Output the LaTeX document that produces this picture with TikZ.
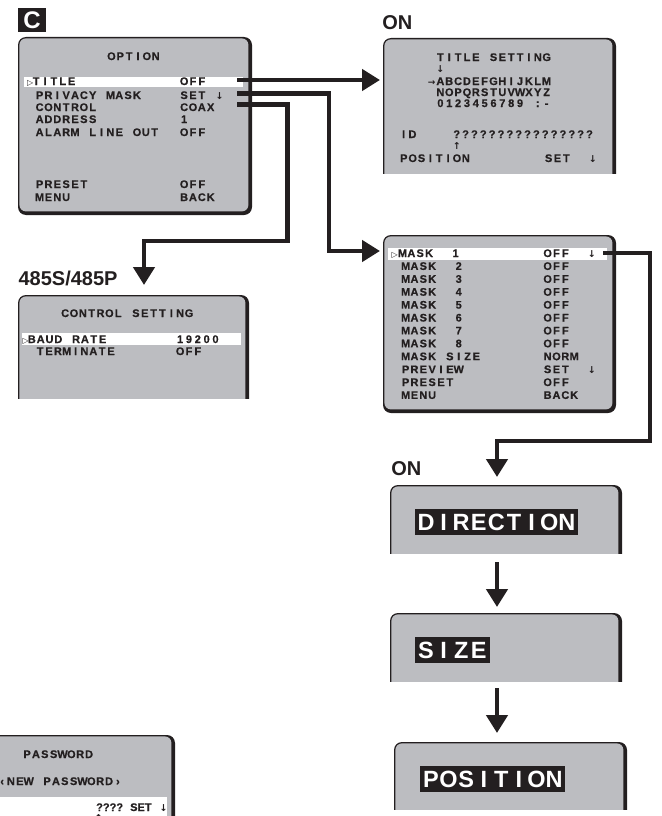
\documentclass[tikz,border=0pt]{standalone}
\usepackage{fontspec}
\setmainfont{Liberation Sans}
\newfontfamily\osdf{Liberation Sans}[BoldFeatures={FakeBold=0.6}]
\newfontfamily\symf{DejaVu Sans}
\usetikzlibrary{arrows.meta}
\definecolor{scrgray}{RGB}{188,189,193}
\definecolor{ink}{RGB}{35,31,32}
\newlength\monopitch
\makeatletter
\def\mono@stop{\mono@stop}
\def\mono@step#1{\ifx#1\mono@stop\else\makebox[\monopitch]{#1}\expandafter\mono@step\fi}
\newcommand\mono[2]{\setlength\monopitch{#1}\mono@step#2\mono@stop}
\makeatother
\newcommand\osm[1]{\mono{8.85pt}{#1}}
\newcommand\osM[1]{\mono{17.6pt}{#1}}
\newcommand\darr{{\symf\bfseries\fontsize{9.5pt}{9.5pt}\selectfont ↓}}
\newcommand\uarr{{\symf\bfseries\fontsize{9.5pt}{9.5pt}\selectfont ↑}}
\newcommand\rarr{{\symf\bfseries\fontsize{9pt}{9pt}\selectfont →}}
\tikzset{
 txt/.style={anchor=base west, inner sep=0pt, text=ink, font=\osdf\bfseries\fontsize{11pt}{11pt}\selectfont},
 tri/.style={anchor=base west, inner sep=0pt, text=ink, font=\symf\bfseries\fontsize{8pt}{8pt}\selectfont},
 hdr/.style={anchor=base west, inner sep=0pt, text=ink, font=\bfseries\fontsize{20pt}{20pt}\selectfont},
 inv/.style={anchor=west, fill=ink, text=white, inner xsep=2pt, inner ysep=4.5pt, text height=17pt, text depth=0pt, font=\bfseries\fontsize{23.5pt}{23.5pt}\selectfont},
 conn/.style={draw=ink, line width=4.5pt},
 arr/.style={conn, -{Triangle[length=18pt,width=21pt]}},
 hl/.style={fill=white},
}
% name, x1, y1, x2, y2, cut-y
\newcommand\screenbox[6]{%
 \begin{scope}
 \clip (#2-6,#3-6) rectangle (#4+6,#6);
 \fill[ink, rounded corners=8pt] (#2,#3) rectangle (#4,#5);
 \fill[scrgray, rounded corners=6.5pt] (#2+1.4,#3+1.4) rectangle (#4-3.6,#5-3.6);
 \end{scope}
 \coordinate (#1) at ({(#2+#4)/2},{(#3+#6)/2});
}
\begin{document}
\begin{tikzpicture}[x=1pt,y=-1pt]
\useasboundingbox (0,0) rectangle (661,816);
\clip (0,0) rectangle (661,816);

% section letter
\node[fill=ink, text=white, inner sep=0pt, minimum width=28pt, minimum height=24pt, font=\bfseries\fontsize{24pt}{24pt}\selectfont] (secC) at (32,20) {C};

% OPTION screen
\screenbox{opt}{18}{37}{252}{215}{230}
\fill[hl] (24,77) rectangle (243,86.5);
\node[txt] (optT) at (106.8,60) {\osm{OPTION}};
\node[tri] (optS) at (27,85) {▷};
\node[txt] (optL1) at (31.6,85) {\osm{TITLE}};
\node[txt] (optV1) at (179.5,85) {\osm{OFF}};
\node[txt] (optL2) at (35,99) {\osm{PRIVACY~MASK}};
\node[txt] (optV2) at (179.5,99) {\osm{SET~\darr}};
\node[txt] (optL3) at (35,111) {\osm{CONTROL}};
\node[txt] (optV3) at (179.5,111) {\osm{COAX}};
\node[txt] (optL4) at (35,123) {\osm{ADDRESS}};
\node[txt] (optV4) at (179.5,123) {\osm{1}};
\node[txt] (optL5) at (35,136) {\osm{ALARM~LINE~OUT}};
\node[txt] (optV5) at (179.5,136) {\osm{OFF}};
\node[txt] (optL6) at (35,188) {\osm{PRESET}};
\node[txt] (optV6) at (179.5,188) {\osm{OFF}};
\node[txt] (optL7) at (35,201) {\osm{MENU}};
\node[txt] (optV7) at (179.5,201) {\osm{BACK}};

% CONTROL SETTING screen
\node[hdr] (lbl485) at (18.4,285) {485S/485P};
\screenbox{cs}{18}{295}{249}{420}{398}
\node[txt] (csT) at (60.5,317) {\osm{CONTROL~SETTING}};
\fill[hl] (22,333) rectangle (241,345);
\node[tri] (csS) at (22.5,343) {▷};
\node[txt] (csL1) at (27.2,343) {\osm{BAUD~RATE}};
\node[txt] (csV1) at (175.5,343) {\osm{19200}};
\node[txt] (csL2) at (35.6,355) {\osm{TERMINATE}};
\node[txt] (csV2) at (175.5,355) {\osm{OFF}};

% TITLE SETTING screen
\node[hdr] (onA) at (382.2,30) {ON};
\screenbox{ts}{383}{38}{616}{200}{173}
\node[txt] (tsT) at (435.8,61) {\osm{TITLE~SETTING}};
\node[txt] (tsD) at (435.8,72) {\osm{\darr}};
\node[txt] (tsR1) at (426.9,85) {\osm{\rarr ABCDEFGHIJKLM}};
\node[txt] (tsR2) at (435.8,96) {\osm{NOPQRSTUVWXYZ}};
\node[txt] (tsR3) at (435.8,107) {\osm{0123456789~:-}};
\node[txt] (tsID) at (399,138) {\osm{ID~~~~????????????????}};
\node[txt] (tsU) at (452.1,149) {\osm{\uarr}};
\node[txt] (tsP) at (399.2,162) {\osm{POSITION}};
\node[txt] (tsS) at (544,162) {\osm{SET~~\darr}};

% MASK screen
\screenbox{mk}{383}{235}{616}{413}{430}
\fill[hl] (388,248) rectangle (607,260);
\node[tri] (mkS) at (391.5,257) {▷};
\node[txt] (mkL1) at (397.9,257) {\osm{MASK~~1}};
\node[txt] (mkV1) at (543,257) {\osm{OFF~~\darr}};
\foreach \i in {2,...,8} {
 \node[txt] (mkL\i) at (401,{257+12.9*(\i-1)}) {\osm{MASK~~\i}};
 \node[txt] (mkV\i) at (543,{257+12.9*(\i-1)}) {\osm{OFF}};
}
\node[txt] (mkL9) at (401,360.2) {\osm{MASK~SIZE}};
\node[txt] (mkV9) at (543,360.2) {\osm{NORM}};
\node[txt] (mkL10) at (401,373.1) {\osm{PREVIEW}};
\node[txt] (mkV10) at (543,373.1) {\osm{SET~~\darr}};
\node[txt] (mkL11) at (401,386) {\osm{PRESET}};
\node[txt] (mkV11) at (543,386) {\osm{OFF}};
\node[txt] (mkL12) at (401,398.9) {\osm{MENU}};
\node[txt] (mkV12) at (543,398.9) {\osm{BACK}};

% preview sequence
\node[hdr] (onB) at (391.2,475) {ON};
\screenbox{dir}{390}{485}{622}{600}{553}
\node[inv] (dirL) at (415,522) {\osM{DIRECTION}};
\screenbox{siz}{390}{613}{622}{720}{681}
\node[inv] (sizL) at (415,650) {\osM{SIZE}};
\screenbox{pos}{394}{742}{627}{850}{809}
\node[inv] (posL) at (420,779) {\osM{POSITION}};

% PASSWORD screen
\screenbox{pw}{-30}{735}{175}{860}{816}
\node[txt] (pwT) at (22.5,758) {\osm{PASSWORD}};
\node[txt] (pwN1) at (-2.5,785) {\osm{‹NEW}};
\node[txt] (pwN2) at (42.5,785) {\osm{PASSWORD›}};
\fill[hl] (-5,797) rectangle (167,830);
\node[txt] (pwQ) at (96,811) {????};
\node[txt] (pwS) at (130,811) {SET};
\node[txt] (pwA) at (159,811) {\osm{\darr}};
\node[txt] (pwU) at (94,821) {\osm{\uarr}};

% connectors
\coordinate (p1s) at (237,80);
\coordinate (p1e) at (380,80);
\draw[arr] (p1s) -- (p1e);
\coordinate (p2s) at (237,93.5);
\coordinate (p2a) at (329,93.5);
\coordinate (p2b) at (329,251);
\coordinate (p2e) at (380,251);
\draw[arr] (p2s) -- (p2a) -- (p2b) -- (p2e);
\coordinate (p3s) at (237,104.5);
\coordinate (p3a) at (287.5,104.5);
\coordinate (p3b) at (287.5,241);
\coordinate (p3c) at (144,241);
\coordinate (p3e) at (144,285);
\draw[arr] (p3s) -- (p3a) -- (p3b) -- (p3c) -- (p3e);
\coordinate (p4s) at (603,253);
\coordinate (p4a) at (650,253);
\coordinate (p4b) at (650,441);
\coordinate (p4c) at (497,441);
\coordinate (p4e) at (497,477);
\draw[arr] (p4s) -- (p4a) -- (p4b) -- (p4c) -- (p4e);
\coordinate (p5s) at (497,562);
\coordinate (p5e) at (497,607);
\draw[arr] (p5s) -- (p5e);
\coordinate (p6s) at (497,688);
\coordinate (p6e) at (497,733);
\draw[arr] (p6s) -- (p6e);
\end{tikzpicture}
\end{document}
